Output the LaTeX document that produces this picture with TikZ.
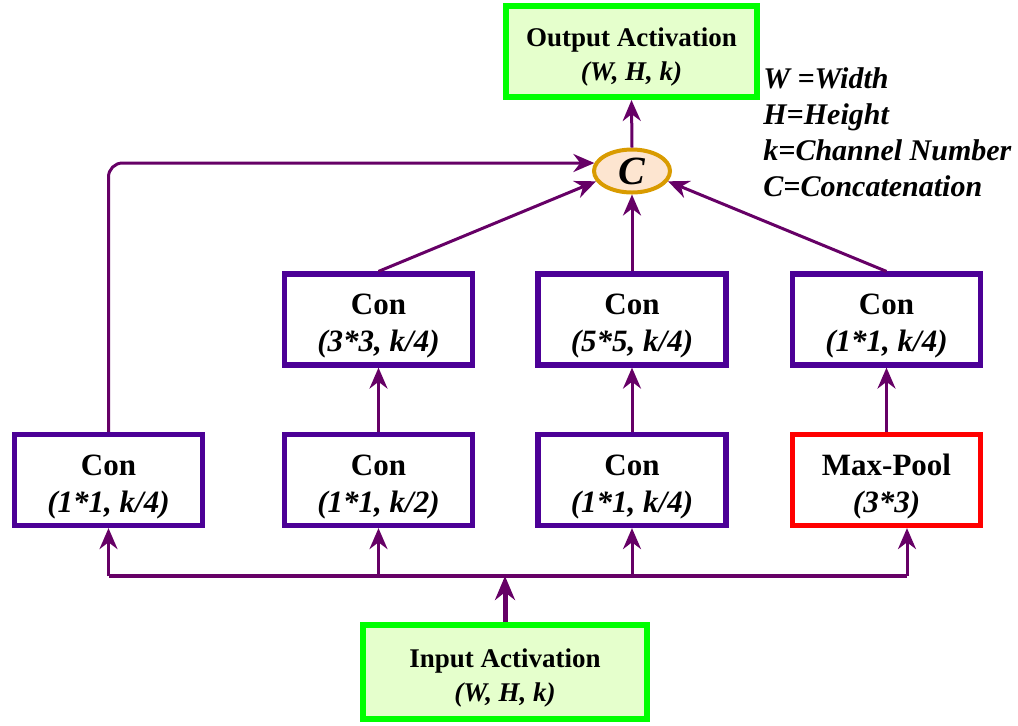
\documentclass[tikz,border=0pt]{standalone}
\usepackage{fontspec}
\setmainfont{Liberation Serif}
\definecolor{incpurple}{RGB}{102, 0, 102}
\definecolor{incindigo}{RGB}{76, 0, 150}
\definecolor{incred}{RGB}{255, 0, 0}
\definecolor{incgreen}{RGB}{0, 255, 0}
\definecolor{inclime}{RGB}{229, 255, 204}
\definecolor{incgold}{RGB}{217, 155, 0}
\definecolor{incpeach}{RGB}{253, 229, 208}
\usetikzlibrary{shapes.geometric, arrows.meta, positioning}
\newcommand{\boxgap}{\rule{0pt}{17pt}}
\newcommand{\actgap}{\rule{0pt}{15pt}}
\tikzset{
  convblock/.style = {
    rectangle,
    draw=incindigo,
    fill=white,
    text=black,
    font=\fontsize{15.5}{18.5}\selectfont\bfseries,
    align=center,
    inner sep=0pt,
    minimum width=94pt,
    minimum height=45.5pt,
    line width=2.6pt
  },
  poolblock/.style = {
    convblock,
    draw=incred
  },
  actblock/.style = {
    rectangle,
    draw=incgreen,
    fill=inclime,
    text=black,
    font=\fontsize{13.5}{17}\selectfont\bfseries,
    align=center,
    inner sep=0pt,
    line width=3pt
  },
  catnode/.style = {
    ellipse,
    draw=incgold,
    fill=incpeach,
    font=\fontsize{20}{22}\selectfont\bfseries\itshape,
    inner sep=0pt,
    minimum width=38pt,
    minimum height=21.5pt,
    line width=2pt
  },
  flowarrow/.style = {
    -{Stealth[length=10.5pt, width=9pt]},
    line width=1.5pt,
    draw=incpurple
  },
  mainarrow/.style = {
    -{Stealth[length=12pt, width=10pt]},
    line width=2.5pt,
    draw=incpurple
  },
  busline/.style = {
    line width=1.8pt,
    draw=incpurple
  }
}

\begin{document}
\begin{tikzpicture}[x=0.5pt, y=-0.5pt]
  \useasboundingbox (0,0) rectangle (1018,725);

  % Activations
  \node[actblock, minimum width=125.5pt, minimum height=45.5pt] at (631.5,51.5) (outp) {\actgap Output Activation\\\textit{(W, H, k)}};
  \node[actblock, minimum width=142pt, minimum height=47pt] at (505,672) (inp) {\actgap Input Activation\\\textit{(W, H, k)}};

  % Concatenation
  \node[catnode] at (632,171) (cat) {C};

  % First row of branches
  \node[convblock] at (108.5,480) (b1) {\boxgap Con\\\textit{(1*1, k/4)}};
  \node[convblock] at (378.5,480) (b2) {\boxgap Con\\\textit{(1*1, k/2)}};
  \node[convblock] at (632,480) (b3) {\boxgap Con\\\textit{(1*1, k/4)}};
  \node[poolblock] at (886.5,480) (pool) {\boxgap Max-Pool\\\textit{(3*3)}};

  % Second row of branches
  \node[convblock] at (378.5,319.5) (t2) {\boxgap Con\\\textit{(3*3, k/4)}};
  \node[convblock] at (632,319.5) (t3) {\boxgap Con\\\textit{(5*5, k/4)}};
  \node[convblock] at (886.5,319.5) (t4) {\boxgap Con\\\textit{(1*1, k/4)}};

  % Legend
  \node[anchor=north west, align=left, inner sep=0pt, font=\fontsize{15}{18}\selectfont\bfseries\itshape] at (763,67) (legend) {W =Width\\H=Height\\k=Channel Number\\C=Concatenation};

  % Input bus
  \coordinate (bus) at (505,576);
  \coordinate (poolin) at ([xshift=10.25pt]pool.south);
  \draw[busline] (b1.south |- bus) -- (poolin |- bus);
  \draw[mainarrow] (inp.north) -- (bus);
  \draw[flowarrow] (b1.south |- bus) -- (b1.south);
  \draw[flowarrow] (b2.south |- bus) -- (b2.south);
  \draw[flowarrow] (b3.south |- bus) -- (b3.south);
  \draw[flowarrow] (poolin |- bus) -- (poolin);

  % Between rows
  \draw[flowarrow] (b2.north) -- (t2.south);
  \draw[flowarrow] (b3.north) -- (t3.south);
  \draw[flowarrow] (pool.north) -- (t4.south);

  % Into concatenation
  \draw[flowarrow, rounded corners=7pt] (b1.north) |- (cat.168);
  \draw[flowarrow] (t2.north) -- (cat.196);
  \draw[flowarrow] (t3.north) -- (cat.south);
  \draw[flowarrow] (t4.north) -- (cat.-16);
  \draw[flowarrow] (cat.north) -- (outp.south);
\end{tikzpicture}
\end{document}
